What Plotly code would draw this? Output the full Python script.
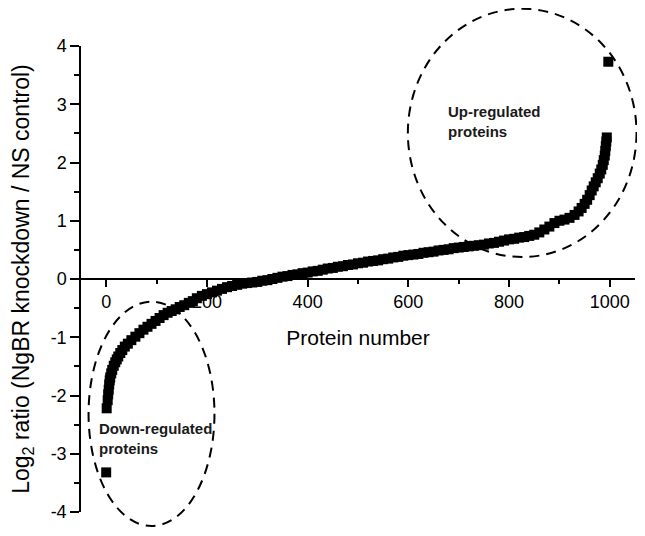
import plotly.graph_objects as go

# Protein rank (x) and log2 ratio (y)
protein_number = [
    0, 1, 3, 4, 5, 6, 7, 8, 10, 12, 15, 18, 21, 24, 28, 32, 37, 43, 50, 58,
    66, 74, 82, 90, 98, 106, 114, 122, 130, 138, 146, 155, 164, 172, 180, 190,
    200, 210, 220, 230, 240, 250, 260, 270, 280, 290, 300, 310, 320, 330, 340,
    350, 360, 370, 380, 390, 400, 410, 420, 430, 440, 450, 460, 470, 480, 490,
    500, 510, 520, 530, 540, 550, 560, 570, 580, 590, 600, 610, 620, 630, 640,
    650, 660, 670, 680, 690, 700, 710, 720, 730, 740, 750, 760, 770, 780, 790,
    800, 810, 820, 830, 840, 850, 860, 870, 880, 890, 900, 910, 920, 930, 938,
    944, 950, 955, 960, 964, 968, 972, 976, 980, 983, 986, 988, 990, 991, 992,
    993, 994, 997,
]
log2_ratio = [
    -3.32, -2.22, -2.08, -1.98, -1.90, -1.81, -1.74, -1.69, -1.62, -1.56, -1.49,
    -1.43, -1.38, -1.33, -1.27, -1.22, -1.16, -1.11, -1.05, -0.99, -0.93, -0.87,
    -0.82, -0.77, -0.72, -0.67, -0.62, -0.58, -0.55, -0.52, -0.48, -0.45, -0.41,
    -0.38, -0.33, -0.29, -0.26, -0.23, -0.20, -0.17, -0.14, -0.12, -0.10, -0.08,
    -0.07, -0.06, -0.05, -0.03, -0.02, 0.00, 0.02, 0.04, 0.05, 0.07, 0.08, 0.10,
    0.11, 0.13, 0.14, 0.16, 0.18, 0.19, 0.21, 0.22, 0.24, 0.25, 0.27, 0.28, 0.30,
    0.31, 0.32, 0.34, 0.35, 0.37, 0.38, 0.40, 0.41, 0.42, 0.43, 0.45, 0.46, 0.47,
    0.49, 0.50, 0.51, 0.53, 0.54, 0.55, 0.56, 0.57, 0.58, 0.59, 0.61, 0.62, 0.64,
    0.66, 0.68, 0.69, 0.71, 0.72, 0.74, 0.76, 0.80, 0.85, 0.90, 0.96, 1.00, 1.02,
    1.05, 1.10, 1.16, 1.22, 1.29, 1.36, 1.44, 1.52, 1.59, 1.66, 1.73, 1.81, 1.88,
    1.96, 2.04, 2.12, 2.20, 2.28, 2.36, 2.43, 3.73,
]

x_ticks = [0, 200, 400, 600, 800, 1000]
x_ticktext = ["0", "200", "400", "600", "800", "1000"]
y_ticks = [-4, -3, -2, -1, 0, 1, 2, 3, 4]
y_ticktext = ["-4", "-3", "-2", "-1", "0", "1", "2", "3", "4"]

x_range = [-50, 1050]
y_range = [-4, 4]

# Dashed ellipses (data units): x0, x1, y0, y1
up_ellipse = [599, 1053, 0.377, 4.64]
down_ellipse = [-35, 215, -4.24, -0.39]

labels = ["Up-regulated<br>proteins", "Down-regulated<br>proteins"]
label_x = [675, -18]
label_y = [2.70, -2.73]


def px(v):
    return (v - x_range[0]) / (x_range[1] - x_range[0])


def py(v):
    return (v - y_range[0]) / (y_range[1] - y_range[0])


fig = go.Figure()
fig.add_trace(go.Scatter(
    x=protein_number, y=log2_ratio, mode="markers",
    marker=dict(symbol="square", size=10, color="black", line=dict(width=0)),
    showlegend=False, cliponaxis=False,
))

for e in (up_ellipse, down_ellipse):
    fig.add_shape(type="circle", xref="paper", yref="paper",
                  x0=px(e[0]), x1=px(e[1]), y0=py(e[2]), y1=py(e[3]),
                  line=dict(color="black", width=2, dash="10px,7px"))

for t, lx, ly in zip(labels, label_x, label_y):
    fig.add_annotation(x=lx, y=ly, xref="x", yref="y", text=t, showarrow=False,
                       xanchor="left", yanchor="middle", align="left",
                       font=dict(family="Liberation Sans, Arial", size=15,
                                 color="#1a1a1a", weight="bold"))

axis_font = dict(family="Liberation Sans, Arial", size=18, color="black")

fig.update_layout(
    width=645, height=536,
    margin=dict(l=73, r=18, t=38, b=32),
    paper_bgcolor="white", plot_bgcolor="white",
    font=axis_font,
    xaxis=dict(
        range=x_range, anchor="free", position=0.5, automargin=False,
        tickmode="array", tickvals=x_ticks, ticktext=x_ticktext,
        showline=True, linecolor="black", linewidth=1.5,
        ticks="outside", ticklen=7, tickwidth=1.5, tickcolor="black",
        minor=dict(dtick=100, tick0=0, ticks="outside", ticklen=4,
                   tickwidth=1.5, tickcolor="black", showgrid=False),
        showgrid=False, zeroline=False, layer="below traces",
        title=dict(text="Protein number", standoff=18,
                   font=dict(family="Liberation Sans, Arial", size=21)),
    ),
    yaxis=dict(
        range=y_range, automargin=False,
        tickmode="array", tickvals=y_ticks, ticktext=y_ticktext,
        showline=True, linecolor="black", linewidth=1.5,
        ticks="outside", ticklen=9, tickwidth=1.5, tickcolor="black",
        minor=dict(dtick=0.5, tick0=0, ticks="outside", ticklen=5,
                   tickwidth=1.5, tickcolor="black", showgrid=False),
        showgrid=False, zeroline=False,
        title=dict(text="Log<sub>2</sub> ratio (NgBR knockdown / NS control)",
                   standoff=22,
                   font=dict(family="Liberation Sans, Arial", size=23)),
    ),
)

fig.write_html("out.html")
